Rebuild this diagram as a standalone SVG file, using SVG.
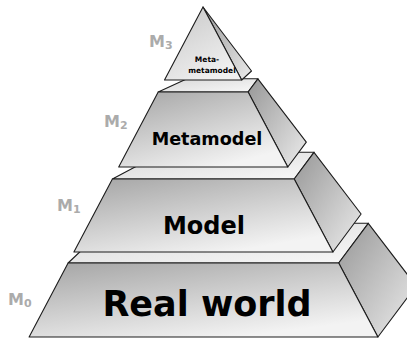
<svg xmlns="http://www.w3.org/2000/svg" width="407" height="338" viewBox="0 0 407 338">
<defs>
<linearGradient id="gFront" x1="0" y1="0" x2="0.6" y2="1">
<stop offset="0" stop-color="#a4a4a4"/>
<stop offset="1" stop-color="#f3f3f3"/>
</linearGradient>
<linearGradient id="gSide" x1="0" y1="0" x2="1" y2="1">
<stop offset="0" stop-color="#979797"/>
<stop offset="1" stop-color="#ececec"/>
</linearGradient>
<linearGradient id="gTop" x1="0" y1="0" x2="1" y2="1">
<stop offset="0" stop-color="#d8d8d8"/>
<stop offset="1" stop-color="#f8f8f8"/>
</linearGradient>
<linearGradient id="gApex" x1="0" y1="0" x2="0.6" y2="1">
<stop offset="0" stop-color="#c6c6c6"/>
<stop offset="1" stop-color="#f0f0f0"/>
</linearGradient>
</defs>
<style>
.face{stroke:#1c1c1c;stroke-width:1.1;stroke-linejoin:round}
.front{fill:url(#gFront)}
.side{fill:url(#gSide)}
.top{fill:url(#gTop)}
.apex{fill:url(#gApex)}
.name{font-family:"DejaVu Sans","Verdana",sans-serif;font-weight:bold;fill:#000;text-anchor:middle}
.lvl{font-family:"DejaVu Sans","Verdana",sans-serif;font-weight:bold;fill:#ababab}
</style>
<g id="layer-m0">
<polygon class="face top" points="68.1,263 338.7,263 368.3,223.3 110,223.3"/>
<polygon class="face side" points="338.7,263 368.3,223.3 416.1,285.9 377.9,337"/>
<polygon class="face front" points="68.1,263 338.7,263 377.9,337 29.1,337"/>
<text class="name" x="207" y="316" font-size="35">Real world</text>
<text class="lvl" x="8" y="305" font-size="16">M<tspan font-size="11" dy="2">0</tspan></text>
</g>
<g id="layer-m1">
<polygon class="face top" points="112.4,179 294.2,179 314,152.3 162.8,152.3"/>
<polygon class="face side" points="294.2,179 314,152.3 361.1,214 332.9,252"/>
<polygon class="face front" points="112.4,179 294.2,179 332.9,252 73.9,252"/>
<text class="name" x="204" y="234" font-size="24">Model</text>
<text class="lvl" x="57" y="211" font-size="16">M<tspan font-size="11" dy="2">1</tspan></text>
</g>
<g id="layer-m2">
<polygon class="face top" points="158.2,92 248.1,92 257.9,78.8 187,78.8"/>
<polygon class="face side" points="248.1,92 257.9,78.8 306.3,142.2 287.8,167"/>
<polygon class="face front" points="158.2,92 248.1,92 287.8,167 118.7,167"/>
<text class="name" x="207" y="145" font-size="17.6">Metamodel</text>
<text class="lvl" x="104" y="127" font-size="16">M<tspan font-size="11" dy="2">2</tspan></text>
</g>
<g id="layer-m3">
<polygon class="face side" points="203,7 251.5,71 241.7,80"/>
<polygon class="face apex" points="203,7 241.7,80 164.5,80"/>
<text class="name" x="207" y="62" font-size="7.5">Meta-</text>
<text class="name" x="212" y="73" font-size="7.5">metamodel</text>
<text class="lvl" x="149" y="47" font-size="16">M<tspan font-size="11" dy="2">3</tspan></text>
</g>
</svg>
